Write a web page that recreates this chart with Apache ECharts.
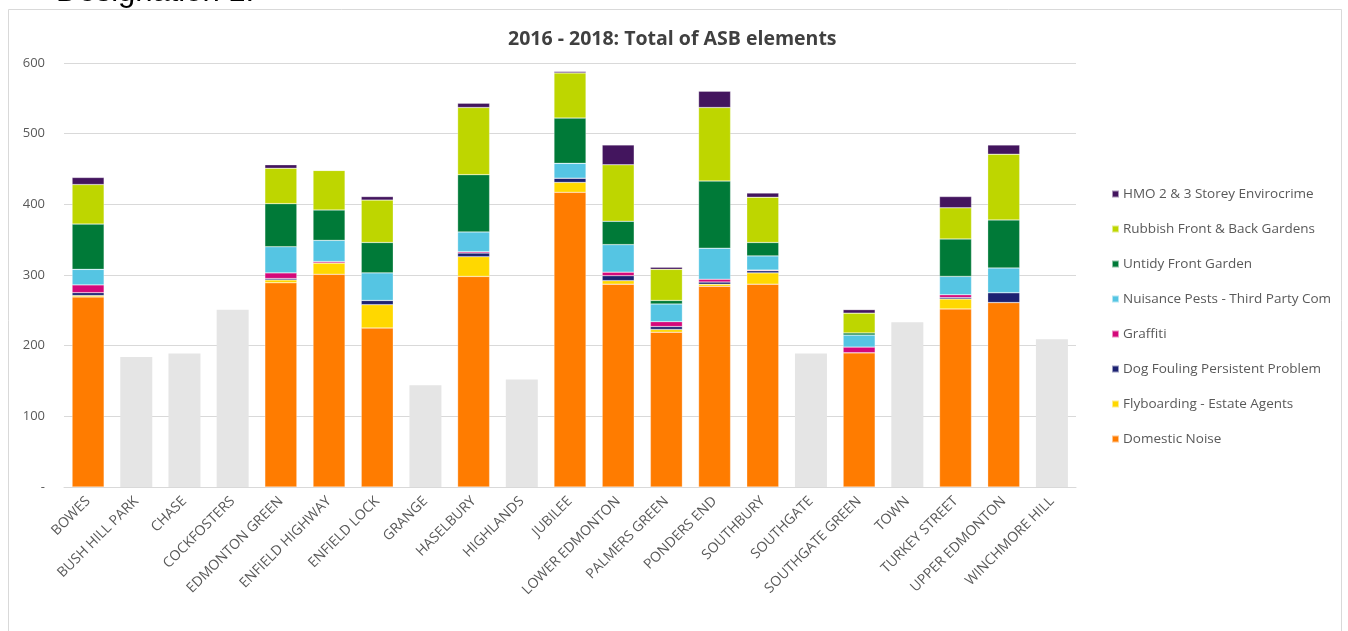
<!DOCTYPE html>
<html>
<head>
<meta charset="utf-8">
<script src="https://cdn.jsdelivr.net/npm/echarts@6/dist/echarts.min.js"></script>
<style>
  html, body { margin: 0; padding: 0; background: #ffffff; }
  #chart { width: 1348px; height: 631px; }
</style>
</head>
<body>
<div id="chart"></div>
<script>
// Wards along the x axis
const wards = ['BOWES', 'BUSH HILL PARK', 'CHASE', 'COCKFOSTERS', 'EDMONTON GREEN', 'ENFIELD HIGHWAY',
  'ENFIELD LOCK', 'GRANGE', 'HASELBURY', 'HIGHLANDS', 'JUBILEE', 'LOWER EDMONTON', 'PALMERS GREEN',
  'PONDERS END', 'SOUTHBURY', 'SOUTHGATE', 'SOUTHGATE GREEN', 'TOWN', 'TURKEY STREET',
  'UPPER EDMONTON', 'WINCHMORE HILL'];

// ASB element counts per ward (null = ward not broken down)
const domesticNoise = [269, null, null, null, 289, 301, 225, null, 298, null, 417, 287, 219, 284, 287, null, 190, null, 252, 261, null];
const flyboarding   = [2, null, null, null, 4, 16, 33, null, 28, null, 14, 5, 4, 3, 16, null, 0, null, 14, 0, null];
const dogFouling    = [4, null, null, null, 2, 0, 6, null, 5, null, 6, 7, 4, 3, 3, null, 0, null, 2, 14, null];
const graffiti      = [11, null, null, null, 8, 2, 0, null, 2, null, 0, 5, 7, 4, 1, null, 8, null, 4, 0, null];
const nuisancePests = [22, null, null, null, 37, 30, 39, null, 28, null, 21, 39, 25, 44, 20, null, 17, null, 26, 35, null];
const untidyGarden  = [64, null, null, null, 61, 43, 43, null, 81, null, 64, 33, 5, 95, 19, null, 3, null, 53, 68, null];
const rubbish       = [56, null, null, null, 50, 56, 60, null, 95, null, 64, 80, 44, 104, 64, null, 28, null, 44, 93, null];
const hmoEnvirocrime = [10, null, null, null, 5, 0, 5, null, 6, null, 2, 28, 3, 23, 6, null, 5, null, 16, 13, null];

// Ward totals shown as plain grey bars
const wardTotals = [null, 184, 189, 251, null, null, null, 144, null, 152, null, null, null, null, null, 189, null, 233, null, null, 209];

// Y axis
const yTicks = [0, 100, 200, 300, 400, 500, 600];

const stackSeries = [
  { name: 'Domestic Noise', data: domesticNoise, color: '#FF7C00' },
  { name: 'Flyboarding - Estate Agents', data: flyboarding, color: '#FFD800' },
  { name: 'Dog Fouling Persistent Problem', data: dogFouling, color: '#1C2272' },
  { name: 'Graffiti', data: graffiti, color: '#D4087A' },
  { name: 'Nuisance Pests - Third Party Com', data: nuisancePests, color: '#55C5E3' },
  { name: 'Untidy Front Garden', data: untidyGarden, color: '#007A38' },
  { name: 'Rubbish Front & Back Gardens', data: rubbish, color: '#BED600' },
  { name: 'HMO 2 & 3 Storey Envirocrime', data: hmoEnvirocrime, color: '#43155E' }
];

const series = stackSeries.map(s => ({
  name: s.name,
  type: 'bar',
  stack: 'asb',
  barWidth: 32,
  data: s.data,
  itemStyle: { color: s.color, borderColor: 'rgba(255,255,255,0.55)', borderWidth: 0.5 },
  emphasis: { disabled: true }
}));

series.push({
  name: 'Ward total',
  type: 'bar',
  stack: 'asb',
  barWidth: 32,
  data: wardTotals,
  itemStyle: { color: '#E5E5E5' },
  emphasis: { disabled: true }
});

const chart = echarts.init(document.getElementById('chart'), null, { renderer: 'canvas' });

chart.setOption({
  backgroundColor: '#ffffff',
  animation: false,
  textStyle: { fontFamily: 'Open Sans' },
  graphic: [
    {
      type: 'rect',
      shape: { x: 8.5, y: 9.5, width: 1333, height: 640 },
      style: { fill: 'none', stroke: '#D9D9D9', lineWidth: 1 },
      silent: true
    },
    {
      type: 'text',
      left: 56,
      top: -23,
      style: { text: 'Designation 1:', font: '31px "Liberation Sans"', fill: '#000000' },
      silent: true
    }
  ],
  title: {
    text: '2016 - 2018: Total of ASB elements',
    left: 503,
    top: 24,
    textStyle: { fontSize: 19.5, fontWeight: 'bold', color: '#404040', fontFamily: 'Open Sans' }
  },
  legend: {
    orient: 'vertical',
    left: 1106,
    top: 182,
    itemWidth: 7,
    itemHeight: 7,
    itemGap: 21,
    icon: 'rect',
    data: stackSeries.map(s => s.name).reverse(),
    textStyle: { fontSize: 13.5, color: '#595959', fontFamily: 'Open Sans', padding: [0, 0, 0, -1] }
  },
  grid: { left: 64, right: 272, top: 63, bottom: 144, containLabel: false },
  xAxis: {
    type: 'category',
    data: wards,
    axisTick: { show: false },
    axisLine: { lineStyle: { color: '#D9D9D9' } },
    axisLabel: { rotate: 45, fontSize: 14, color: '#595959', interval: 0, margin: 12 }
  },
  yAxis: {
    type: 'value',
    min: yTicks[0],
    max: yTicks[yTicks.length - 1],
    interval: 100,
    axisLine: { show: false },
    axisTick: { show: false },
    splitLine: { lineStyle: { color: '#D9D9D9' } },
    axisLabel: {
      fontSize: 13,
      color: '#595959',
      margin: 19,
      formatter: v => (v === 0 ? '-' : String(v))
    }
  },
  series: series
});
</script>
</body>
</html>
